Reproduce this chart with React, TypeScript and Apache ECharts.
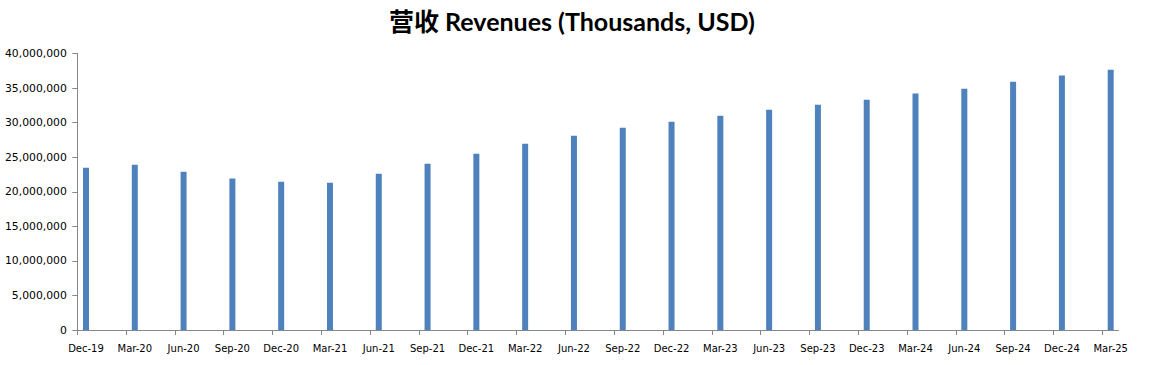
import React, { useEffect, useRef } from "react";
import * as echarts from "echarts";

const categories = [
  "Dec-19", "Mar-20", "Jun-20", "Sep-20", "Dec-20", "Mar-21", "Jun-21", "Sep-21",
  "Dec-21", "Mar-22", "Jun-22", "Sep-22", "Dec-22", "Mar-23", "Jun-23", "Sep-23",
  "Dec-23", "Mar-24", "Jun-24", "Sep-24", "Dec-24", "Mar-25",
];

const revenues = [
  23480000, 23900000, 22900000, 21900000, 21460000, 21300000, 22600000, 24060000,
  25500000, 26950000, 28100000, 29270000, 30140000, 31000000, 31870000, 32600000,
  33300000, 34200000, 34900000, 35900000, 36800000, 37660000,
];

const titleText = "营收 Revenues (Thousands, USD)";
const yMax = 40000000;
const yStep = 5000000;

export default function App() {
  const ref = useRef<HTMLDivElement>(null);

  useEffect(() => {
    if (!ref.current) return;
    const chart = echarts.init(ref.current, null, { renderer: "svg" });
    const axisGray = "#868686";
    const tickIdx = categories.map((_, i) => i);
    chart.setOption({
      animation: false,
      backgroundColor: "#ffffff",
      title: {
        text: titleText,
        left: 384,
        top: 3,
        textStyle: {
          fontFamily: "Lato, 'Noto Sans CJK SC', sans-serif",
          fontWeight: "bold",
          fontSize: 25,
          color: "#000000",
        },
      },
      grid: [
        { left: 86, right: 38.3, top: 53.5, bottom: 35, containLabel: false },
        { left: 77.3, right: 30.7, top: 53.5, bottom: 35, containLabel: false },
      ],
      xAxis: [
        {
          type: "category",
          gridIndex: 0,
          data: categories,
          boundaryGap: false,
          axisLine: { show: false },
          axisTick: { show: false },
          axisLabel: {
            interval: 0,
            margin: 13,
            fontFamily: "'DejaVu Sans', sans-serif",
            fontSize: 10,
            color: "#000000",
          },
        },
        {
          type: "value",
          gridIndex: 1,
          min: 0,
          max: categories.length - 1 + 0.33,
          splitLine: { show: false },
          axisLine: { show: true, onZero: false, lineStyle: { color: axisGray, width: 1 } },
          axisTick: {
            show: true,
            length: 5,
            customValues: tickIdx,
            lineStyle: { color: axisGray },
          },
          axisLabel: { show: false },
        },
      ],
      yAxis: [
        {
          type: "value",
          gridIndex: 0,
          min: 0,
          max: yMax,
          interval: yStep,
          show: false,
          splitLine: { show: false },
        },
        {
          type: "value",
          gridIndex: 1,
          min: 0,
          max: yMax,
          interval: yStep,
          splitLine: { show: false },
          axisLine: { show: true, lineStyle: { color: axisGray, width: 1 } },
          axisTick: { show: true, length: 5, lineStyle: { color: axisGray } },
          axisLabel: {
            margin: 10.5,
            fontFamily: "'DejaVu Sans', sans-serif",
            fontSize: 10.8,
            color: "#000000",
            formatter: (v: number) => v.toLocaleString("en-US"),
          },
        },
      ],
      series: [
        {
          type: "bar",
          xAxisIndex: 0,
          yAxisIndex: 0,
          data: revenues,
          barWidth: 6,
          itemStyle: { color: "#4f81bd" },
        },
      ],
    });
    return () => chart.dispose();
  }, []);

  return (
    <div
      ref={ref}
      style={{ position: "fixed", left: 0, top: 0, width: 1149, height: 365 }}
    />
  );
}
